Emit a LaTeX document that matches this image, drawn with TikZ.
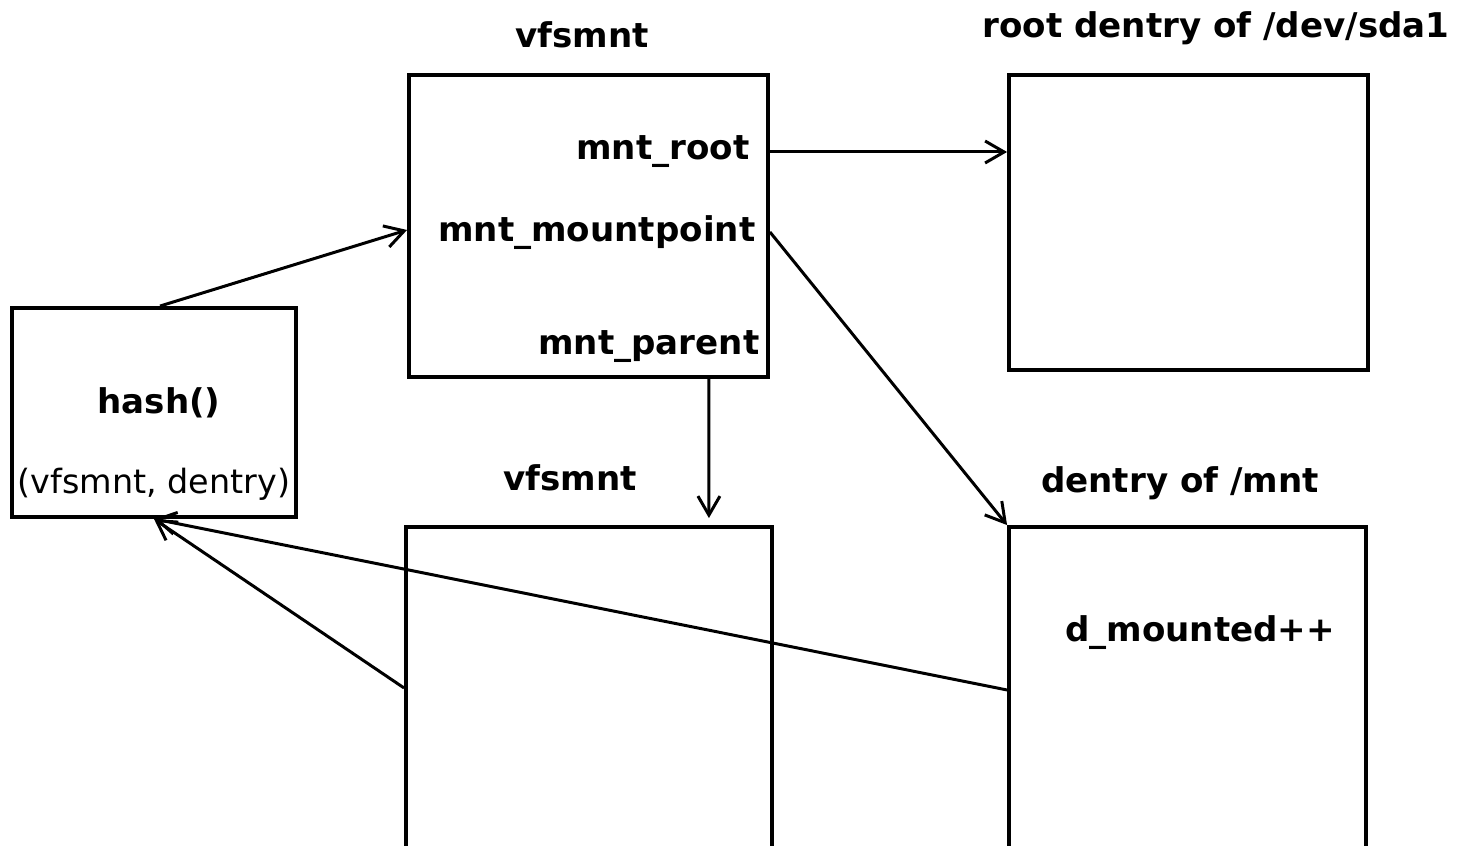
\documentclass[tikz,border=0pt]{standalone}
\usepackage{fontspec}
\setmainfont{DejaVu Sans}
\usetikzlibrary{arrows.meta,calc}

\begin{document}
\begin{tikzpicture}[
    box/.style={draw,line width=1.1pt,inner sep=0pt},
    lbl/.style={font=\fontsize{9.7}{11}\selectfont\bfseries,inner sep=0pt},
    ptr/.style={-{Straight Barb[length=1.9mm,width=2.2mm]},line width=0.85pt}
]
    \useasboundingbox (0,0) rectangle (14.6,8.46);

    %the boxes
    \node[box,minimum width=3.59cm,minimum height=3.02cm] (vfs) at (5.885,6.20) {};
    \node[box,minimum width=3.59cm,minimum height=2.95cm] (root) at (11.885,6.235) {};
    \node[box,minimum width=2.84cm,minimum height=2.09cm] (hash) at (1.54,4.335) {};
    \node[box,minimum width=3.66cm,minimum height=3.39cm] (vfsb) at (5.89,1.495) {};
    \node[box,minimum width=3.57cm,minimum height=3.39cm] (mnt) at (11.875,1.495) {};

    %titles above the boxes
    \node[lbl] (vfstitle) at (5.82,8.11) {vfsmnt};
    \node[lbl] (roottitle) at (12.16,8.18) {root dentry of /dev/sda1};
    \node[lbl] (vfsbtitle) at (5.70,3.68) {vfsmnt};
    \node[lbl] (mnttitle) at (11.80,3.63) {dentry of /mnt};

    %fields of vfsmnt
    \node[lbl,anchor=east] (mntroot) at (7.50,6.94) {mnt\_root};
    \node[lbl,anchor=east] (mntpt) at (7.56,6.13) {mnt\_mountpoint};
    \node[lbl,anchor=east] (mntpar) at (7.60,4.99) {mnt\_parent};

    %inside the other boxes
    \node[lbl] (hashname) at (1.59,4.43) {hash()};
    \node[font=\fontsize{9.5}{11}\selectfont,inner sep=0pt] (hashargs) at (1.54,3.62) {(vfsmnt, dentry)};
    \node[lbl] (dmounted) at (12.00,2.13) {d\_mounted++};

    %pointers out of vfsmnt
    \coordinate (parout) at ($(vfs.south east)+(-0.61,0)$);
    \coordinate (parin) at ($(vfsb.north east)+(-0.65,0.07)$);
    \draw[ptr] (vfs.east |- 0,6.94) -- (root.west |- 0,6.94);
    \draw[ptr] (vfs.east |- 0,6.14) -- (mnt.north west);
    \draw[ptr] (parout) -- (parin);

    %pointers into and out of hash()
    \draw[ptr] ($(hash.north)+(0.06,0)$) -- (vfs.west |- 0,6.16);
    \draw[ptr] (vfsb.west |- 0,1.58) -- (hash.south);
    \draw[ptr] (mnt.west |- 0,1.56) -- (hash.south);

\end{tikzpicture}
\end{document}
